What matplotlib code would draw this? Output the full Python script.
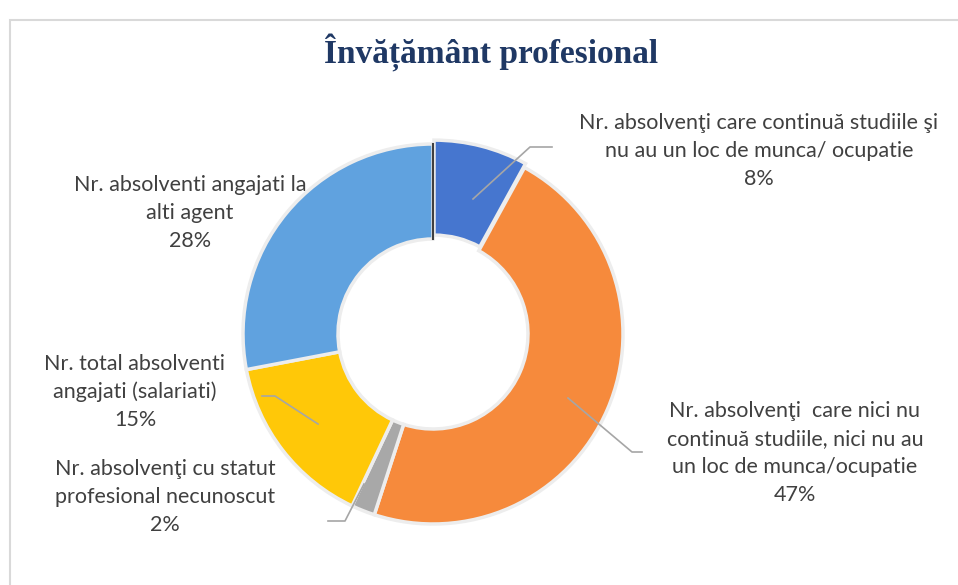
import matplotlib
matplotlib.use('Agg')
import matplotlib.pyplot as plt
from matplotlib.patches import Rectangle

# date
categorii = [
    'Nr. absolvenţi care continuă studiile şi\nnu au un loc de munca/ ocupatie',
    'Nr. absolvenţi  care nici nu\ncontinuă studiile, nici nu au\nun loc de munca/ocupatie',
    'Nr. absolvenţi cu statut\nprofesional necunoscut',
    'Nr. total absolventi\nangajati (salariati)',
    'Nr. absolventi angajati la\nalti agent',
]
procente = [8, 47, 2, 15, 28]
culori = ['#4676CF', '#F68A3C', '#A8A8A8', '#FFC808', '#60A2DF']

plt.rcParams['font.family'] = ['Lato', 'DejaVu Sans']

fig = plt.figure(figsize=(9.58, 5.85), dpi=100)
ax = fig.add_axes([0, 0, 1, 1])

# chenar
fig.patches.append(Rectangle((10 / 958, -0.1), 1.1, 1 - 20 / 585 + 0.1,
                             transform=fig.transFigure, fill=False,
                             edgecolor='#D9D9D9', linewidth=1.5))

fig.text(491 / 958, 1 - 52 / 585, 'Învățământ profesional', ha='center', va='center',
         fontsize=24, fontweight='bold', family='Liberation Serif', color='#1F3864')

centru = (433, 251)
raza = 190
wedges, _ = ax.pie(procente, colors=culori, startangle=90, counterclock=False,
                   center=centru, radius=raza, explode=[4, 0, 0, 0, 0],
                   wedgeprops=dict(width=raza * 0.5, edgecolor='#EDEDED', linewidth=2.5),
                   frame=True)
ax.set_xlim(0, 958)
ax.set_ylim(0, 585)
ax.set_aspect('equal')
ax.axis('off')

# umbra la margine
ax.plot([433, 433], [251 + 95, 251 + 190], color='#404040', lw=1.5)

# etichete
pozitii = [(759, 585 - 151), (795, 585 - 453), (165, 585 - 497), (135, 585 - 392), (190, 585 - 213)]
for cat, p, pos in zip(categorii, procente, pozitii):
    ax.text(pos[0], pos[1], f'{cat}\n{p}%', ha='center', va='center',
            fontsize=15.5, color='#404040', linespacing=1.5)

# linii de legatura
linii = [
    ([473, 530, 552], [585 - 199, 585 - 147, 585 - 147]),
    ([568, 632, 642], [585 - 398, 585 - 452, 585 - 452]),
    ([364, 345, 328], [585 - 484, 585 - 521, 585 - 521]),
    ([318, 275, 262], [585 - 424, 585 - 396, 585 - 396]),
]
for xs, ys in linii:
    ax.plot(xs, ys, color='#A6A6A6', lw=1.2)

plt.savefig('out.png', dpi=100)
